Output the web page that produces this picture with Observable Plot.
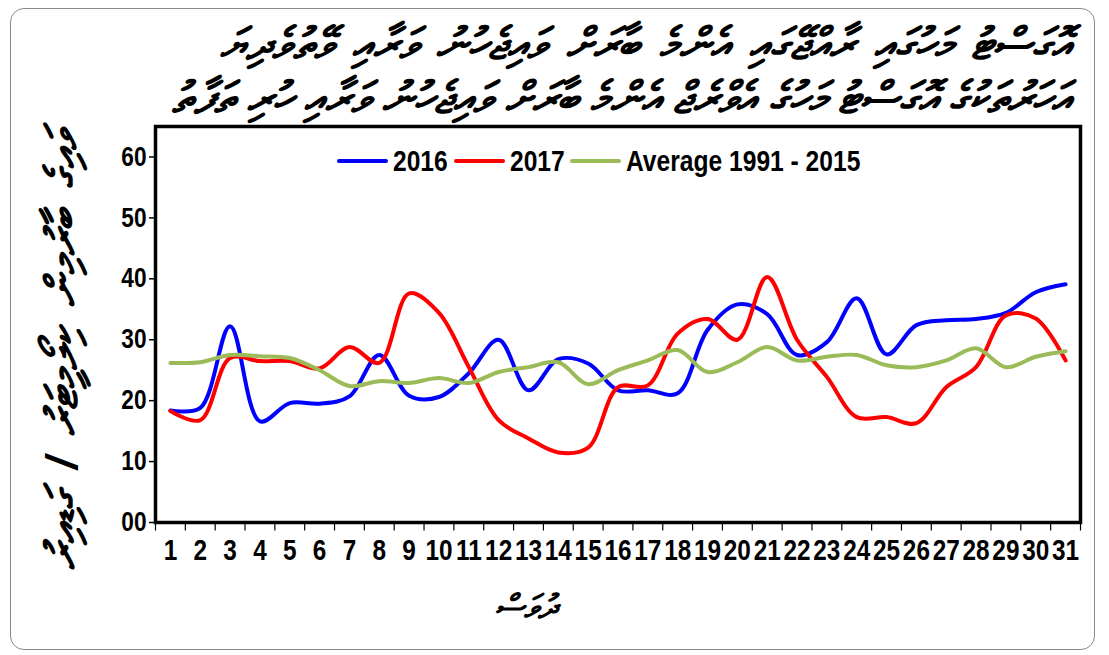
<!DOCTYPE html>
<html>
<head>
<meta charset="utf-8">
<script src="https://cdn.jsdelivr.net/npm/d3@7"></script>
<script src="https://cdn.jsdelivr.net/npm/@observablehq/plot@0.6"></script>
<style>
  html, body { margin: 0; padding: 0; background: #fff; }
  body { width: 1109px; height: 655px; position: relative; overflow: hidden; font-family: "Liberation Sans", Arial, sans-serif; }
  #frame { position: absolute; left: 10px; top: 8px; width: 1085px; height: 642px; border: 1.5px solid #8a8a8a; border-radius: 14px; box-sizing: border-box; }
  #chart { position: absolute; left: 0; top: 0; }
  .title { position: absolute; direction: rtl; font-size: 44px; line-height: 1; font-weight: bold; font-style: italic; white-space: nowrap; color: #000; text-align: justify; text-align-last: justify; }
  #ylab { position: absolute; left: 62px; top: 350px; width: 440px; transform: translate(-50%, -50%) rotate(-90deg); direction: rtl; font-size: 44px; line-height: 1; font-weight: bold; font-style: italic; white-space: nowrap; text-align: justify; text-align-last: justify; }
  #xlab { position: absolute; left: 525px; top: 606px; transform: translate(-50%, -50%); direction: rtl; font-size: 33px; line-height: 1; font-weight: bold; font-style: italic; white-space: nowrap; }
  #legend { position: absolute; left: 337px; top: 144px; height: 34px; display: flex; align-items: center; font-family: "Liberation Sans", Arial, sans-serif; font-weight: bold; font-size: 30px; white-space: nowrap; }
  #legend .sw { display: inline-block; width: 51px; height: 4.5px; border-radius: 2px; margin-right: 5px; }
  #legend .tx { display: inline-block; transform: scaleX(0.82); transform-origin: 0 50%; }
  #legend .it { display: flex; align-items: center; margin-right: 6px; }
</style>
</head>
<body>
<div id="frame"></div>
<div id="chart"></div>
<div class="title" id="t1" style="top:22px; left:220px; width:850px"></div>
<div class="title" id="t2" style="top:76px; left:215px; width:855px"></div>
<div id="ylab"></div>
<div id="xlab"></div>
<div id="legend"></div>
<script>
// ---- data ----
const days = [1,2,3,4,5,6,7,8,9,10,11,12,13,14,15,16,17,18,19,20,21,22,23,24,25,26,27,28,29,30,31];
const dayLabels = ["1","2","3","4","5","6","7","8","9","10","11","12","13","14","15","16","17","18","19","20","21","22","23","24","25","26","27","28","29","30","31"];
const values2016 = [18.4,18.8,32.2,16.6,19.6,19.5,20.7,27.5,20.8,20.6,24.5,30.0,21.7,26.8,26.1,21.7,21.7,21.2,31.6,35.8,34.2,27.5,29.6,36.8,27.6,32.4,33.2,33.4,34.4,37.8,39.1];
const values2017 = [18.3,16.8,27.0,26.5,26.5,25.3,28.8,26.2,37.6,34.4,25.5,16.8,13.8,11.5,12.3,22.2,22.5,31.0,33.4,30.0,40.3,30.0,23.9,17.3,17.3,16.3,22.2,25.5,34.0,33.5,26.6];
const valuesAvg = [26.2,26.3,27.5,27.3,27.0,25.0,22.4,23.2,22.9,23.7,22.9,24.7,25.5,26.3,22.7,25.0,26.6,28.3,24.7,26.3,28.8,26.6,27.2,27.5,25.8,25.5,26.6,28.6,25.5,27.2,28.1];
const yTicks = [0,10,20,30,40,50,60];
const seriesNames = ["2016","2017","Average 1991 - 2015"];
const seriesColors = ["#0000FF","#FF0000","#9BBB59"];
const titleLine1 = "އޮގަސްޓު މަހުގައި ރާއްޖޭގައި އެންމެ ބާރަށް ވައިޖެހުނު ވަރާއި ވޭތުވެދިޔަ";
const titleLine2 = "އަހަރުތަކުގެ އޮގަސްޓު މަހުގެ އެވްރެޖް އެންމެ ބާރަށް ވައިޖެހުނު ވަރާއި ހުރި ތަފާތު";
const yLabel = "ވައިގެ ބާރުމިން ކިލޯމީޓަރު / ގަޑިއިރު";
const xLabel = "ދުވަސް";

// ---- build ----
const rows = (vals) => days.map((d, i) => ({day: d, value: vals[i]}));
const boundaries = [0, ...days].map(d => d + 0.5);

const chart = Plot.plot({
  width: 1109,
  height: 655,
  marginLeft: 155,
  marginRight: 29,
  marginTop: 126,
  marginBottom: 133,
  x: {type: "linear", domain: [0.5, 31.5], axis: null},
  y: {domain: [0, 65], axis: null},
  style: {fontFamily: "'Liberation Sans', Arial, sans-serif", fontWeight: "bold", fontSize: "28px", color: "#000", background: "transparent", overflow: "visible"},
  marks: [
    Plot.axisY({ticks: yTicks, tickSize: 6, tickPadding: 3, fontSize: 27, tickFormat: d => d === 0 ? "00" : String(d), label: null, stroke: "#000", strokeWidth: 1.5}),
    Plot.axisX({ticks: days, tickSize: 0, tickPadding: 17, fontSize: 29, tickFormat: d => dayLabels[days.indexOf(d)], label: null}),
    Plot.ruleX(boundaries, {x: d => d, y1: 0, y2: -1.4, stroke: "#000", strokeWidth: 1.2}),
    Plot.line(rows(values2016), {x: "day", y: "value", stroke: seriesColors[0], strokeWidth: 4, curve: "catmull-rom"}),
    Plot.line(rows(values2017), {x: "day", y: "value", stroke: seriesColors[1], strokeWidth: 4, curve: "catmull-rom"}),
    Plot.line(rows(valuesAvg), {x: "day", y: "value", stroke: seriesColors[2], strokeWidth: 4, curve: "catmull-rom"}),
    Plot.frame({stroke: "#000", strokeWidth: 3.5})
  ]
});
// condense the numeric tick labels (narrow bold face look)
chart.querySelectorAll("g[aria-label$='tick label'] text").forEach(t => {
  const tr = t.getAttribute("transform") || "";
  t.setAttribute("transform", tr + " scale(0.84,1)");
});
document.getElementById("chart").appendChild(chart);

document.getElementById("t1").textContent = titleLine1;
document.getElementById("t2").textContent = titleLine2;
document.getElementById("ylab").textContent = yLabel;
document.getElementById("xlab").textContent = xLabel;

const leg = document.getElementById("legend");
seriesNames.forEach((name, i) => {
  const it = document.createElement("span");
  it.className = "it";
  const sw = document.createElement("span");
  sw.className = "sw";
  sw.style.background = seriesColors[i];
  const tx = document.createElement("span");
  tx.className = "tx";
  tx.textContent = name;
  it.appendChild(sw);
  it.appendChild(tx);
  leg.appendChild(it);
  tx.style.marginRight = (-(1 - 0.82) * tx.offsetWidth) + "px";
});
</script>
</body>
</html>
